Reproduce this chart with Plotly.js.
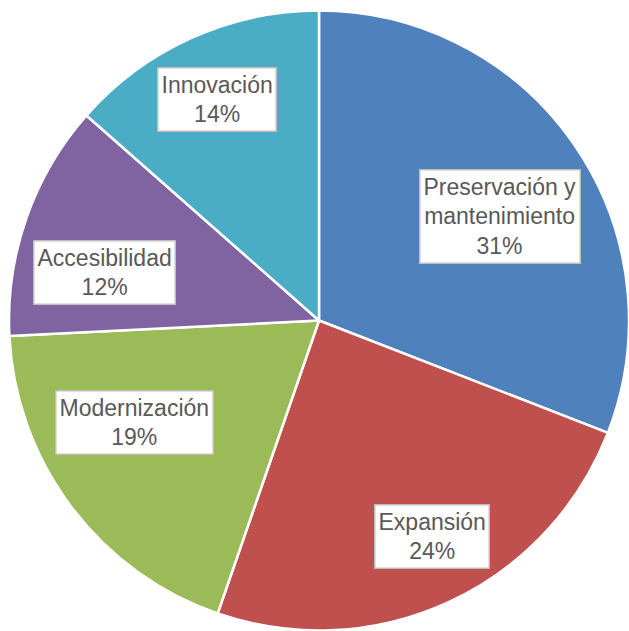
<!DOCTYPE html>
<html>
<head>
<meta charset="utf-8">
<script src="https://cdn.plot.ly/plotly-3.0.1.min.js"></script>
<style>
  html, body { margin: 0; padding: 0; background: #ffffff; }
  #chart { width: 629px; height: 631px; }
</style>
</head>
<body>
<div id="chart"></div>
<script>
// data
var categories = ["Preservación y<br>mantenimiento", "Expansión", "Modernización", "Accesibilidad", "Innovación"];
var values = [30.9, 24.4, 18.9, 12.3, 13.5];
var colors = ["#4F81BD", "#C0504D", "#9BBB59", "#8064A2", "#4BACC6"];

// label placement (fraction of radius, angle tweak in degrees)
var labelRadius = [0.673, 0.787, 0.678, 0.708, 0.784];
var labelTweak = [4.6, -2.8, 8, -6.5, -0.5];

var W = 629, H = 631;
var margin = {l: 9, r: 0, t: 10, b: 0};
var plotW = W - margin.l - margin.r;
var plotH = H - margin.t - margin.b;
var R = Math.min(plotW, plotH) / 2;

var total = values.reduce(function(a, b) { return a + b; }, 0);
var annotations = [];
var cum = 0;
for (var i = 0; i < values.length; i++) {
  var mid = (cum + values[i] / 2) / total * 360 + labelTweak[i];
  cum += values[i];
  var a = mid * Math.PI / 180;
  var r = labelRadius[i] * R;
  // paper coords relative to pie centre (0.5, 0.5)
  var x = 0.5 + r * Math.sin(a) / plotW;
  var y = 0.5 + r * Math.cos(a) / plotH;
  var pct = Math.round(values[i] / total * 100);
  annotations.push({
    xref: "paper", yref: "paper",
    x: x, y: y,
    xanchor: "center", yanchor: "middle",
    text: categories[i] + "<br>" + pct + "%",
    showarrow: false,
    align: "center",
    bgcolor: "#ffffff",
    bordercolor: "#bfbfbf",
    borderwidth: 1.5,
    borderpad: 3,
    font: {family: "Liberation Sans, Arial, sans-serif", size: 23, color: "#595959"}
  });
}

var layout = {
  width: W,
  height: H,
  margin: margin,
  showlegend: false,
  paper_bgcolor: "#ffffff",
  annotations: annotations
};

Plotly.newPlot("chart", [{
  type: "pie",
  labels: categories,
  values: values,
  sort: false,
  direction: "clockwise",
  rotation: 0,
  textinfo: "none",
  hoverinfo: "none",
  marker: {colors: colors, line: {color: "#ffffff", width: 2.5}}
}], layout, {displayModeBar: false});
</script>
</body>
</html>
